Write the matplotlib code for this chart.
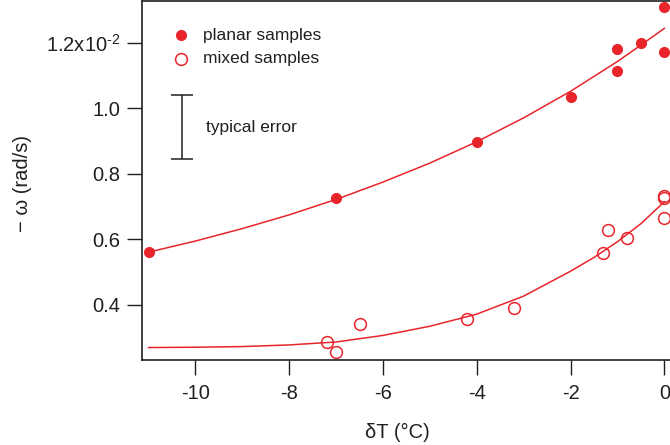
import matplotlib
matplotlib.use("Agg")
import matplotlib.pyplot as plt

# values in units of 1e-2 rad/s
planar_dT = [-11, -7, -4, -2, -1, -1, -0.5, 0, 0]
planar_w = [0.561, 0.726, 0.897, 1.034, 1.180, 1.113, 1.199, 1.309, 1.171]

mixed_dT = [-7.2, -7.0, -6.5, -4.2, -3.2, -1.3, -1.2, -0.8, 0, 0, 0]
mixed_w = [0.286, 0.257, 0.341, 0.358, 0.392, 0.558, 0.629, 0.603, 0.732, 0.725, 0.664]

# fitted curves
fit_planar_dT = [-11, -10, -9, -8, -7, -6, -5, -4, -3, -2, -1, -0.5, 0]
fit_planar_w = [0.561, 0.595, 0.633, 0.675, 0.722, 0.775, 0.833, 0.898, 0.971, 1.052, 1.143, 1.193, 1.244]

fit_mixed_dT = [-11, -10, -9, -8, -7, -6, -5, -4, -3, -2, -1.5, -1, -0.5, 0]
fit_mixed_w = [0.270, 0.271, 0.273, 0.278, 0.287, 0.307, 0.335, 0.372, 0.427, 0.503, 0.545, 0.593, 0.648, 0.715]

yticks = [0.4, 0.6, 0.8, 1.0, 1.2]
ytick_labels = ["0.4", "0.6", "0.8", "1.0", "1.2x10$^{\u2010\\mathregular{2}}$"]
xticks = [-10, -8, -6, -4, -2, 0]

red = "#E8252B"
ink = "#231F20"

plt.rcParams["font.family"] = ["Liberation Sans", "DejaVu Sans"]
plt.rcParams["axes.unicode_minus"] = False
plt.rcParams["mathtext.default"] = "regular"

fig = plt.figure(figsize=(6.7, 4.45), dpi=100)
ax = fig.add_axes([141.5 / 670, 85 / 445, 1 - 141.5 / 670, 359.5 / 445])

ax.plot(fit_planar_dT, fit_planar_w, color=red, lw=1.1)
ax.plot(fit_mixed_dT, fit_mixed_w, color=red, lw=1.1)
ax.plot(planar_dT, planar_w, "o", color=red, ms=7, mec=red, clip_on=False)
ax.plot(mixed_dT, mixed_w, "o", mfc="none", mec=red, ms=8.5, mew=1.1, clip_on=False)

# legend drawn by hand
ax.plot([-10.31], [1.223], "o", color=red, ms=7)
ax.plot([-10.31], [1.152], "o", mfc="none", mec=red, ms=8.5, mew=1.1)
ax.text(-9.83, 1.223, "planar samples", fontsize=12.5, color=ink, va="center")
ax.text(-9.83, 1.152, "mixed samples", fontsize=12.5, color=ink, va="center")

# typical error bar
ax.errorbar([-10.28], [0.9435], yerr=[0.0975], color=ink, capsize=8, lw=1.1, capthick=1.1)
ax.text(-9.78, 0.94, "typical error", fontsize=12.5, color=ink, va="center")

ax.set_xlim(-11.15, 0.12)
ax.set_ylim(0.232, 1.329)
ax.set_xticks(xticks)
ax.set_xticklabels([str(t) for t in xticks])
ax.set_yticks(yticks)
ax.set_yticklabels(ytick_labels)
ax.tick_params(direction="out", length=10.5, width=1, colors=ink, labelsize=14.5)
ax.tick_params(axis="x", pad=7)
ax.tick_params(axis="y", pad=5)

for side in ["left", "bottom", "top"]:
    ax.spines[side].set_color(ink)
    ax.spines[side].set_linewidth(1.2)
ax.spines["right"].set_visible(False)

ax.set_xlabel("δT (°C)", fontsize=14.5, color=ink)
ax.xaxis.set_label_coords(0.485, -0.175)
ax.set_ylabel("− ω (rad/s)", fontsize=14.5, color=ink)
ax.yaxis.set_label_coords(-0.207, 0.49)

fig.savefig("out.png", dpi=100)
